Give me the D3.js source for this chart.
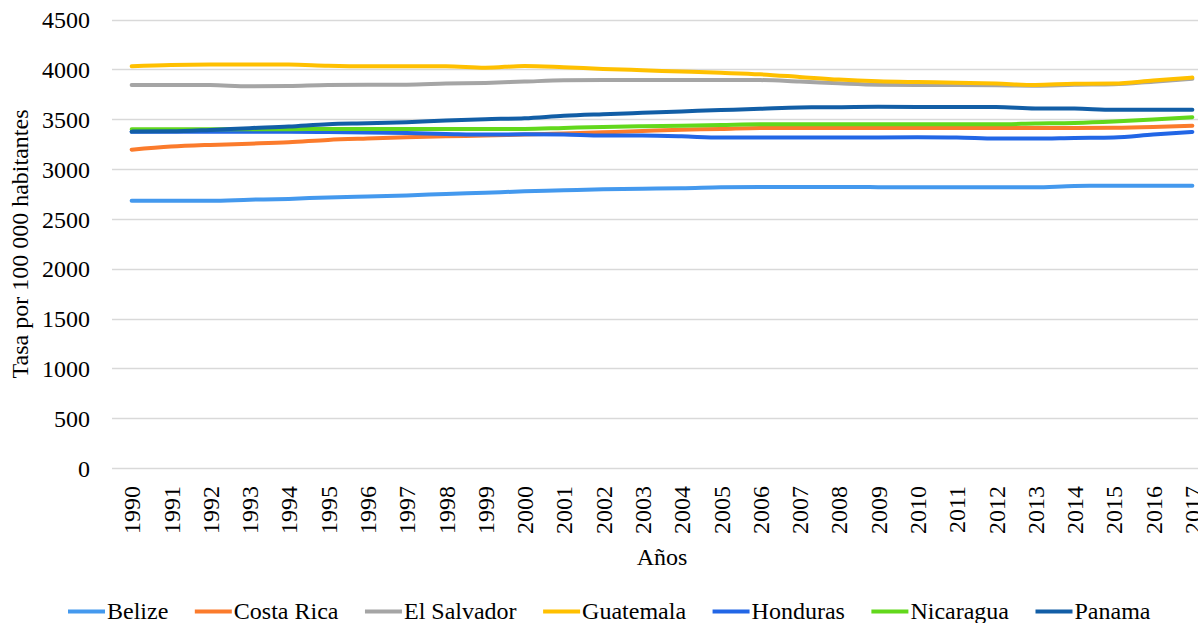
<!DOCTYPE html>
<html>
<head>
<meta charset="utf-8">
<script src="https://cdn.jsdelivr.net/npm/d3@7"></script>
<style>
  body { margin: 0; background: #fff; }
  svg { display: block; font-family: "Liberation Serif", "Times New Roman", serif; }
  svg text { font-family: "Liberation Serif", "Times New Roman", serif; fill: #000; }
</style>
</head>
<body>
<div id="chart-div"></div>
<script>
// categories (years) and series values
const years = ["1990","1991","1992","1993","1994","1995","1996","1997","1998","1999",
  "2000","2001","2002","2003","2004","2005","2006","2007","2008","2009",
  "2010","2011","2012","2013","2014","2015","2016","2017"];

const countries = ["Belize", "Costa Rica", "El Salvador", "Guatemala", "Honduras", "Nicaragua", "Panama"];

const belize = [2682, 2682, 2682, 2692, 2700, 2715, 2725, 2735, 2750, 2762,
  2776, 2786, 2796, 2803, 2806, 2816, 2819, 2819, 2819, 2818,
  2816, 2816, 2816, 2816, 2830, 2832, 2832, 2832];
const costaRica = [3194, 3225, 3242, 3254, 3268, 3292, 3306, 3318, 3328, 3335,
  3345, 3355, 3368, 3382, 3395, 3402, 3412, 3412, 3412, 3412,
  3412, 3412, 3412, 3412, 3412, 3414, 3422, 3435];
const elSalvador = [3844, 3844, 3842, 3830, 3833, 3844, 3846, 3846, 3857, 3864,
  3877, 3890, 3894, 3894, 3894, 3894, 3892, 3877, 3860, 3846,
  3843, 3843, 3840, 3836, 3845, 3850, 3876, 3905];
const guatemala = [4031, 4044, 4048, 4048, 4048, 4036, 4031, 4031, 4031, 4016,
  4034, 4021, 4004, 3991, 3978, 3965, 3950, 3924, 3897, 3880,
  3872, 3866, 3857, 3844, 3855, 3857, 3887, 3917];
const honduras = [3375, 3375, 3375, 3375, 3374, 3370, 3365, 3360, 3352, 3345,
  3348, 3345, 3335, 3335, 3328, 3315, 3315, 3315, 3315, 3316,
  3318, 3316, 3305, 3305, 3311, 3315, 3345, 3372];
const nicaragua = [3398, 3398, 3398, 3400, 3400, 3402, 3402, 3402, 3402, 3402,
  3402, 3412, 3422, 3429, 3435, 3442, 3449, 3449, 3449, 3449,
  3449, 3449, 3449, 3456, 3462, 3476, 3496, 3519];
const panama = [3375, 3378, 3392, 3410, 3426, 3450, 3458, 3469, 3487, 3500,
  3509, 3534, 3550, 3564, 3578, 3591, 3604, 3618, 3620, 3624,
  3622, 3622, 3622, 3608, 3606, 3594, 3594, 3594];

const seriesValues = [belize, costaRica, elSalvador, guatemala, honduras, nicaragua, panama];
const seriesColors = ["#4499ee", "#fb7b2c", "#a5a5a5", "#ffc000", "#2266e6", "#62d81c", "#125ea6"];

const yTicks = [0, 500, 1000, 1500, 2000, 2500, 3000, 3500, 4000, 4500];

const svgWidth = 1198;
const svgHeight = 623;
const fontSize = "24px";

const svg = d3.select("#chart-div")
  .append("svg")
  .attr("width", svgWidth)
  .attr("height", svgHeight);

const xPos = d3.scalePoint()
  .domain(years)
  .range([112, 1212])
  .padding(0.5);

const yPos = d3.scaleLinear()
  .domain([0, 4500])
  .range([468, 19.5]);

// horizontal gridlines
svg.append("g")
  .selectAll("line")
  .data(yTicks)
  .enter()
  .append("line")
  .attr("x1", 112)
  .attr("x2", svgWidth)
  .attr("y1", d => Math.round(yPos(d)) + 0.5)
  .attr("y2", d => Math.round(yPos(d)) + 0.5)
  .style("stroke", "#d9d9d9")
  .style("stroke-width", 1.3);

// y axis labels
const yAxis = d3.axisLeft(yPos).tickValues(yTicks).tickFormat(d3.format("d")).tickSize(0).tickPadding(0);
const yAxisG = svg.append("g")
  .attr("transform", "translate(90,0)")
  .call(yAxis)
  .attr("font-family", null)
  .attr("font-size", null);
yAxisG.select(".domain").remove();
yAxisG.selectAll("text")
  .style("font-size", fontSize)
  .attr("dy", "0.34em");

// x axis labels, rotated
const xAxis = d3.axisBottom(xPos).tickSize(0).tickPadding(0);
const xAxisG = svg.append("g")
  .attr("transform", "translate(0,486)")
  .call(xAxis)
  .attr("font-family", null)
  .attr("font-size", null);
xAxisG.select(".domain").remove();
xAxisG.selectAll("text")
  .style("font-size", fontSize)
  .attr("text-anchor", "end")
  .attr("transform", "rotate(-90)")
  .attr("x", 0)
  .attr("y", 0)
  .attr("dx", 0)
  .attr("dy", "0.34em");

// axis titles
svg.append("text")
  .attr("x", (xPos.range()[0] + xPos.range()[1]) / 2)
  .attr("y", 565)
  .attr("text-anchor", "middle")
  .style("font-size", fontSize)
  .text("Años");

svg.append("text")
  .attr("transform", "translate(28,244) rotate(-90)")
  .attr("text-anchor", "middle")
  .style("font-size", fontSize)
  .text("Tasa por 100 000 habitantes");

// series lines
const line = d3.line()
  .x((d, i) => xPos(years[i]))
  .y(d => yPos(d))
  .curve(d3.curveMonotoneX);

svg.append("g")
  .selectAll("path")
  .data(seriesValues)
  .enter()
  .append("path")
  .attr("d", d => line(d))
  .style("fill", "none")
  .style("stroke", (d, i) => seriesColors[i])
  .style("stroke-width", 4)
  .style("stroke-linecap", "round")
  .style("stroke-linejoin", "round");

// legend, laid out left to right
const legend = svg.append("g").attr("id", "legend");
let legendX = 68;
countries.forEach((name, i) => {
  legend.append("line")
    .attr("x1", legendX)
    .attr("x2", legendX + 37)
    .attr("y1", 611.5)
    .attr("y2", 611.5)
    .style("stroke", seriesColors[i])
    .style("stroke-width", 4);
  const txt = legend.append("text")
    .attr("x", legendX + 39)
    .attr("y", 619)
    .style("font-size", fontSize)
    .text(name);
  legendX += 39 + txt.node().getComputedTextLength() + 26.5;
});
</script>
</body>
</html>
